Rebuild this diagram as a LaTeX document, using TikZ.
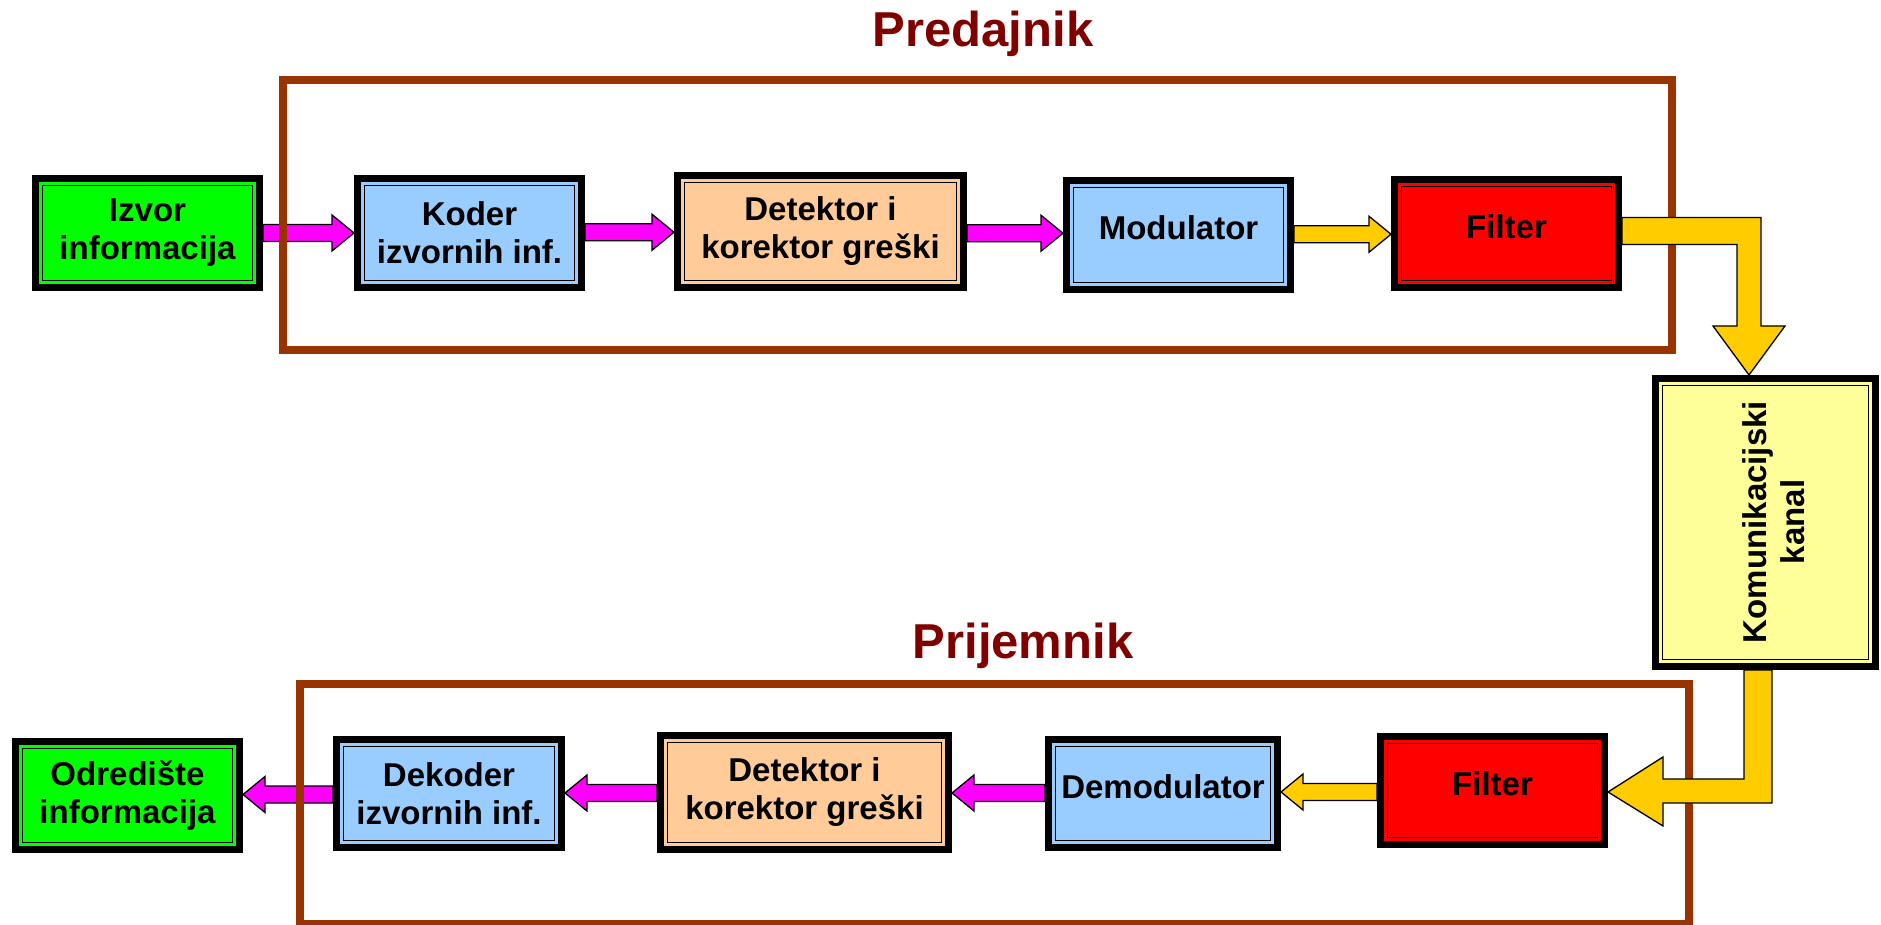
\documentclass[tikz,border=0pt]{standalone}
\usepackage{fontspec}
\setmainfont{Liberation Sans}
\usetikzlibrary{calc}

\definecolor{framebrown}{HTML}{993300}
\definecolor{titlered}{HTML}{800000}
\definecolor{boxgreen}{HTML}{00FF00}
\definecolor{boxblue}{HTML}{99CCFF}
\definecolor{boxpeach}{HTML}{FFCC99}
\definecolor{boxred}{HTML}{FF0000}
\definecolor{boxyellow}{HTML}{FFFF99}
\definecolor{arrowpink}{HTML}{FF00FF}
\definecolor{arrowgold}{HTML}{FFCC00}

% block with corners (#3,#4) and (#5,#6) in pixel units: #1 name, #2 fill, #7 extra keys, #8 text
\newcommand\boxnode[8]{%
  \pgfmathsetmacro\bxw{(#5-#3)*0.5}%
  \pgfmathsetmacro\bxh{(#6-#4)*0.5}%
  \pgfmathsetmacro\bxx{(#3+#5)/2}%
  \pgfmathsetmacro\bxy{(#4+#6)/2}%
  \node[blk=#2, minimum width=\bxw pt, minimum height=\bxh pt, #7] (#1) at (\bxx,\bxy) {#8};%
}

% straight block arrow: #1 fill colour, #2 source anchor, #3 target anchor, #4 direction (1 right, -1 left)
\newcommand\blockarrow[4]{%
  \filldraw[fill=#1, draw=black, line width=0.65pt, line join=miter]
    let \p1=(#2), \p2=(#3), \n1={(\y1+\y2)/2} in
    (\x1,{\n1*1pt+4.25pt}) -- ({\x2-#4*11pt},{\n1*1pt+4.25pt}) -- ({\x2-#4*11pt},{\n1*1pt+9pt})
    -- (\x2,{\n1*1pt}) -- ({\x2-#4*11pt},{\n1*1pt-9pt}) -- ({\x2-#4*11pt},{\n1*1pt-4.25pt})
    -- (\x1,{\n1*1pt-4.25pt}) -- cycle;
}

\begin{document}
\begin{tikzpicture}[x=0.5pt,y=-0.5pt,
  blk/.style={rectangle, inner sep=0pt, outer sep=0pt, fill=black, align=center,
    font=\bfseries\fontsize{16.5}{19}\selectfont,
    path picture={
      \fill[#1] ([shift={(3.5pt,3.5pt)}]path picture bounding box.south west)
        rectangle ([shift={(-3.5pt,-3.5pt)}]path picture bounding box.north east);
      \draw[black, line width=0.75pt] ([shift={(5.3pt,5.3pt)}]path picture bounding box.south west)
        rectangle ([shift={(-5.3pt,-5.3pt)}]path picture bounding box.north east);
    }},
  oneline/.style={text depth=7pt},
  framebox/.style={draw=framebrown, line width=4pt},
  title/.style={font=\bfseries\fontsize{24.5}{28}\selectfont, text=titlered, anchor=base, inner sep=0pt},
  bigarrow/.style={fill=arrowgold, draw=black, line width=0.65pt, line join=miter},
]
\useasboundingbox (0,0) rectangle (1881,925);

% transmitter chain
\boxnode{izvor}{boxgreen}{32}{175}{263}{291}{}{Izvor\\informacija}
\boxnode{koder}{boxblue}{354}{175}{585}{291}{}{Koder\\izvornih inf.}
\boxnode{detT}{boxpeach}{674}{172}{967}{291}{}{Detektor i\\korektor greški}
\boxnode{modul}{boxblue}{1063}{177}{1294}{293}{oneline}{Modulator}
\boxnode{filterT}{boxred}{1391}{176}{1622}{291}{oneline}{Filter}

% channel
\boxnode{channel}{boxyellow}{1652}{375}{1879}{670}{}{}
\node[rotate=90, align=center, inner sep=0pt, font=\bfseries\fontsize{16.5}{19}\selectfont]
  (channeltext) at (1774,522) {Komunikacijski\\kanal};

% receiver chain
\boxnode{filterB}{boxred}{1377}{733}{1608}{848}{oneline}{Filter}
\boxnode{demod}{boxblue}{1045}{736}{1281}{851}{oneline}{Demodulator}
\boxnode{detB}{boxpeach}{657}{732}{952}{853}{}{Detektor i\\korektor greški}
\boxnode{dekoder}{boxblue}{333}{736}{565}{851}{}{Dekoder\\izvornih inf.}
\boxnode{odred}{boxgreen}{12}{738}{243}{853}{}{Odredište\\informacija}

% titles
\node[title] (predajnik) at (983,47) {Predajnik};
\node[title] (prijemnik) at (1023,658) {Prijemnik};

% small block arrows
\blockarrow{arrowpink}{izvor.east}{koder.west}{1}
\blockarrow{arrowpink}{koder.east}{detT.west}{1}
\blockarrow{arrowpink}{detT.east}{modul.west}{1}
\blockarrow{arrowgold}{modul.east}{filterT.west}{1}
\blockarrow{arrowgold}{filterB.west}{demod.east}{-1}
\blockarrow{arrowpink}{demod.west}{detB.east}{-1}
\blockarrow{arrowpink}{detB.west}{dekoder.east}{-1}
\blockarrow{arrowpink}{dekoder.west}{odred.east}{-1}

% frames around transmitter and receiver
\draw[framebox] (283,80) rectangle (1672,350);
\draw[framebox] (300,684) rectangle (1689,924);

% bent arrow from the filter into the channel
\filldraw[bigarrow] let \p1=(filterT.east), \p2=(channel.north) in
  (\x1,{\y1+8pt}) -- ({\x2-2.25pt},{\y1+8pt}) -- ({\x2-2.25pt},{\y2+24.5pt})
  -- ({\x2+9.75pt},{\y2+24.5pt}) -- ({\x2-8.25pt},\y2) -- ({\x2-26.25pt},{\y2+24.5pt})
  -- ({\x2-14.25pt},{\y2+24.5pt}) -- ({\x2-14.25pt},{\y1-5.5pt}) -- (\x1,{\y1-5.5pt}) -- cycle;

% bent arrow from the channel into the receiving filter
\filldraw[bigarrow] let \p1=(channel.south), \p2=(filterB.east) in
  ({\x1-10.75pt},\y1) -- ({\x1+3.25pt},\y1) -- ({\x1+3.25pt},{\y2-6.25pt})
  -- ({\x2+27.5pt},{\y2-6.25pt}) -- ({\x2+27.5pt},{\y2-17.75pt}) -- (\x2,{\y2-0.75pt})
  -- ({\x2+27.5pt},{\y2+16.75pt}) -- ({\x2+27.5pt},{\y2+5.75pt})
  -- ({\x1-10.75pt},{\y2+5.75pt}) -- cycle;
\end{tikzpicture}
\end{document}
